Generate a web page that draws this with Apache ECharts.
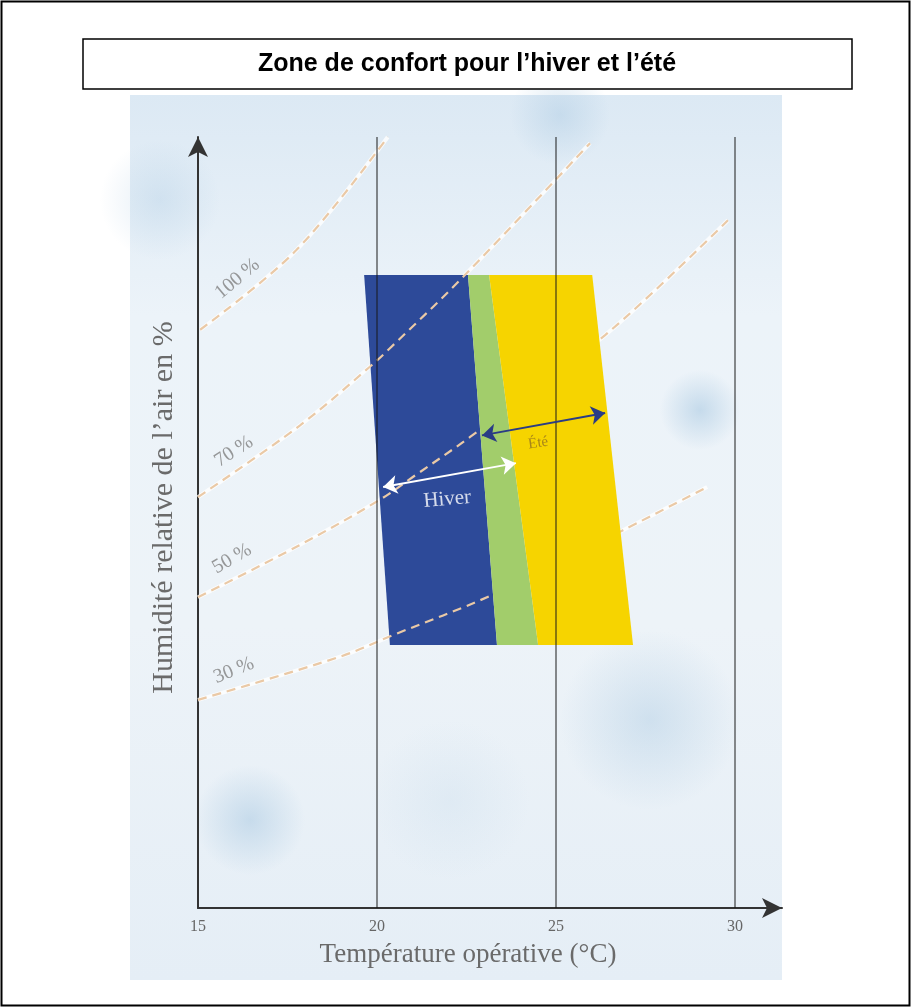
<!DOCTYPE html>
<html>
<head>
<meta charset="utf-8">
<script src="https://cdn.jsdelivr.net/npm/echarts@6/dist/echarts.min.js"></script>
<style>
html,body{margin:0;padding:0;background:#fff;}
#main{width:911px;height:1007px;}
</style>
</head>
<body>
<div id="main"></div>
<script>
// ---- data ----
const xTicks = [15, 20, 25, 30];
const xMin = 15, xMax = 31.31, yMin = 0, yMax = 100;

// iso-humidity curves (temperature °C, position on vertical scale)
const rh100 = [[15.06, 75.0], [17.74, 85.3], [20.3, 100]];
const rh70  = [[15, 53.3], [17.85, 62.6], [19.8, 70.2], [20.36, 72.6], [22.37, 81.7], [25.95, 99.2]];
const rh50  = [[15, 40.3], [17.85, 47.1], [20.06, 52.9], [21.0, 55.9], [22.6, 61.1], [26.37, 74.3], [29.8, 89.2]];
const rh30  = [[15, 27.0], [18.97, 32.6], [20.45, 35.4], [23.21, 40.6], [26.87, 49.0], [29.22, 54.6]];
const rhCurves = [rh100, rh70, rh50, rh30];

const rhLabels = ['100 %', '70 %', '50 %', '30 %'];
const rhLabelPos = [[16.1, 81.6], [16.0, 59.2], [15.95, 45.3], [16.0, 30.8]];
const rhLabelAngle = [40, 33, 30, 22];

// comfort zones (polygons)
const hiverZone = [[19.64, 82.1], [22.54, 82.1], [23.35, 34.1], [20.36, 34.1]];
const mixZone   = [[22.54, 82.1], [23.13, 82.1], [24.50, 34.1], [23.35, 34.1]];
const eteZone   = [[23.13, 82.1], [26.01, 82.1], [27.15, 34.1], [24.50, 34.1]];

// double arrows
const hiverArrow = [[20.17, 54.6], [23.88, 57.7]];
const eteArrow   = [[22.93, 61.3], [26.37, 64.2]];
const zoneTexts = ['Hiver', 'Été'];
const zoneTextPos = [[21.96, 53.0], [24.5, 60.3]];

const gridLinesAt = [20, 25, 30];

const serif = "'Liberation Serif','DejaVu Serif',serif";

const chart = echarts.init(document.getElementById('main'));

function zoneSeries(pts, color, z) {
  return {
    type: 'custom', z: z, silent: true,
    data: pts, encode: {x: 0, y: 1},
    renderItem: function (params, api) {
      if (params.dataIndex !== 0) return null;
      return {
        type: 'polygon',
        shape: {points: pts.map(p => api.coord(p))},
        style: {fill: color}
      };
    }
  };
}

const series = [];
// white halos under the dashed curves
rhCurves.forEach(c => series.push({
  type: 'line', data: c, smooth: 0.35, showSymbol: false, silent: true, z: 1,
  lineStyle: {color: 'rgba(255,255,255,0.8)', width: 4}
}));
series.push(zoneSeries(hiverZone, '#2d4a99', 2));
rhCurves.forEach(c => series.push({
  type: 'line', data: c, smooth: 0.35, showSymbol: false, silent: true, z: 3,
  lineStyle: {color: '#eac9a6', width: 2.2, type: [9, 6]}
}));
series.push(zoneSeries(mixZone, '#a2cd6b', 4));
series.push(zoneSeries(eteZone, '#f6d400', 4));
// vertical reference lines on top
series.push({
  type: 'line', data: [], z: 5, silent: true,
  markLine: {
    silent: true, symbol: ['none', 'none'], label: {show: false},
    lineStyle: {color: 'rgba(25,25,25,0.62)', width: 1.6, type: 'solid'},
    data: gridLinesAt.map(v => ({xAxis: v}))
  }
});
series.push({
  type: 'lines', coordinateSystem: 'cartesian2d', z: 6, silent: true,
  symbol: ['arrow', 'arrow'], symbolSize: 14,
  lineStyle: {color: '#ffffff', width: 2, opacity: 1, curveness: 0},
  data: [{coords: hiverArrow}]
});
series.push({
  type: 'lines', coordinateSystem: 'cartesian2d', z: 6, silent: true,
  symbol: ['arrow', 'arrow'], symbolSize: 14,
  lineStyle: {color: '#2a3c85', width: 2, opacity: 1, curveness: 0},
  data: [{coords: eteArrow}]
});
// humidity labels
series.push({
  type: 'scatter', z: 7, silent: true, symbolSize: 1,
  itemStyle: {color: 'rgba(0,0,0,0)'},
  data: rhLabelPos.map((p, i) => ({
    value: p,
    label: {show: true, position: 'inside', formatter: rhLabels[i], rotate: rhLabelAngle[i],
      color: '#808080', fontFamily: serif, fontSize: 20}
  }))
});
// zone texts
series.push({
  type: 'scatter', z: 7, silent: true, symbolSize: 1,
  itemStyle: {color: 'rgba(0,0,0,0)'},
  data: [
    {value: zoneTextPos[0], label: {show: true, position: 'inside', formatter: zoneTexts[0], rotate: 5,
      color: '#ffffff', fontFamily: serif, fontSize: 21}},
    {value: zoneTextPos[1], label: {show: true, position: 'inside', formatter: zoneTexts[1], rotate: 8,
      color: '#94701f', fontFamily: serif, fontSize: 15}}
  ]
});

function blob(cx, cy, rx, ry, a) {
  return {
    type: 'ellipse', z: -9, silent: true,
    shape: {cx: cx, cy: cy, rx: rx, ry: ry},
    style: {fill: {type: 'radial', x: 0.5, y: 0.5, r: 0.5,
      colorStops: [{offset: 0, color: 'rgba(165,198,224,' + a + ')'}, {offset: 1, color: 'rgba(165,198,224,0)'}]}}
  };
}

const option = {
  animation: false,
  backgroundColor: '#ffffff',
  grid: {left: 198, top: 137, width: 584, height: 771, containLabel: false},
  xAxis: {
    type: 'value', min: xMin, max: xMax, interval: 5,
    name: 'Température opérative (°C)', nameLocation: 'middle', nameGap: 33,
    nameTextStyle: {fontFamily: serif, fontSize: 27, color: '#6a6a6a', padding: [0, 44, 0, 0]},
    axisLine: {onZero: false, lineStyle: {color: '#333333', width: 2}, symbol: ['none', 'arrow'], symbolSize: [15, 20]},
    axisTick: {show: false},
    splitLine: {show: false},
    axisLabel: {
      margin: 11, fontFamily: serif, fontSize: 16, color: '#666666',
      formatter: v => (xTicks.indexOf(v) >= 0 ? String(v) : '')
    }
  },
  yAxis: {
    type: 'value', min: yMin, max: yMax,
    name: 'Humidité relative de l’air en %', nameLocation: 'middle', nameGap: 19, nameRotate: 90,
    nameTextStyle: {fontFamily: serif, fontSize: 30, color: '#6a6a6a', padding: [0, 0, 0, 30]},
    axisLine: {onZero: false, lineStyle: {color: '#333333', width: 2}, symbol: ['none', 'arrow'], symbolSize: [15, 20]},
    axisTick: {show: false},
    axisLabel: {show: false},
    splitLine: {show: false}
  },
  graphic: [
    {type: 'rect', z: -10, silent: true, shape: {x: 130, y: 95, width: 652, height: 885},
      style: {fill: {type: 'linear', x: 0, y: 0, x2: 0, y2: 1,
        colorStops: [{offset: 0, color: '#dce9f4'}, {offset: 0.25, color: '#ecf3f9'},
                     {offset: 0.6, color: '#edf3f8'}, {offset: 1, color: '#e5eef6'}]}}},
    blob(250, 820, 55, 140, 0.5),
    blob(650, 720, 90, 90, 0.4),
    blob(700, 410, 70, 40, 0.55),
    blob(560, 115, 110, 50, 0.4),
    blob(160, 200, 60, 120, 0.3),
    blob(450, 800, 120, 80, 0.15),
    {type: 'rect', z: 50, silent: true, shape: {x: 1.5, y: 1.5, width: 908, height: 1004},
      style: {fill: 'none', stroke: '#000000', lineWidth: 2}},
    {type: 'rect', z: 50, silent: true, shape: {x: 83, y: 39, width: 769, height: 50},
      style: {fill: '#ffffff', stroke: '#000000', lineWidth: 1.5}},
    {type: 'text', z: 51, silent: true, x: 467, y: 64,
      style: {text: 'Zone de confort pour l’hiver et l’été', align: 'center', verticalAlign: 'middle',
        font: "bold 25px 'Liberation Sans', Arial, sans-serif", fill: '#000000'}}
  ],
  series: series
};
chart.setOption(option);
</script>
</body>
</html>
